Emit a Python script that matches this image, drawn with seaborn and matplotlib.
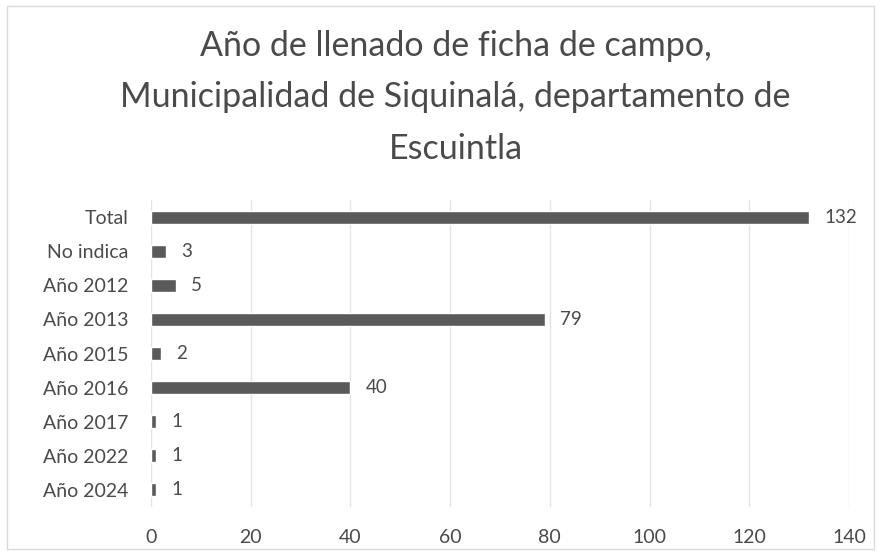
import numpy as np
import pandas as pd
import matplotlib
matplotlib.use("Agg")
import matplotlib.pyplot as plt
import seaborn as sns

categories = ["Total", "No indica", "Año 2012", "Año 2013", "Año 2015",
              "Año 2016", "Año 2017", "Año 2022", "Año 2024"]
values = [132, 3, 5, 79, 2, 40, 1, 1, 1]
x_ticks = [0, 20, 40, 60, 80, 100, 120, 140]

data = pd.DataFrame({"categoria": categories, "cantidad": values})

sns.set_theme(style="whitegrid")
plt.rcParams["font.family"] = ["Lato", "DejaVu Sans"]

fig = plt.figure(figsize=(8.81, 5.55), dpi=100)
ax = fig.add_axes([0.1714, 0.0865, 0.7923, 0.553])

sns.barplot(data=data, x="cantidad", y="categoria", order=categories,
            color="#5a5a5a", width=0.38, saturation=1, ax=ax)

# etiquetas de valor al final de cada barra
for i, v in enumerate(values):
    ax.text(v + 3, i, str(v), va="center", ha="left", fontsize=13.5, color="#4a4a4a")

ax.set_xlim(0, 140)
ax.set_xticks(x_ticks)
ax.set_ylim(8.5, -0.5)
ax.set_xlabel("")
ax.set_ylabel("")
ax.grid(axis="x", color="#e4e4e4", linewidth=1)
ax.grid(axis="y", visible=False)
for s in ax.spines.values():
    s.set_visible(False)
ax.tick_params(axis="both", length=0, labelsize=14, labelcolor="#4a4a4a")
ax.tick_params(axis="x", pad=16)
ax.tick_params(axis="y", pad=16)

fig.text(0.517, 0.825, "Año de llenado de ficha de campo,\nMunicipalidad de Siquinalá, departamento de\nEscuintla",
         ha="center", va="center", fontsize=24.5, color="#4a4a4a", linespacing=1.75)

fig.patches.append(plt.Rectangle((0.008, 0.01), 0.984, 0.98, transform=fig.transFigure,
                                 fill=False, edgecolor="#d9d9d9", linewidth=1))

plt.savefig("out.png", dpi=100)
